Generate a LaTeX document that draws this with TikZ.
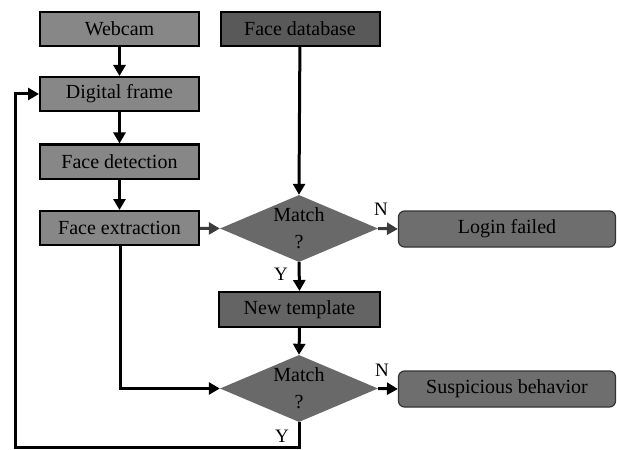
\documentclass[tikz,border=0pt]{standalone}
\usepackage{fontspec}
\setmainfont{Liberation Serif}
\usetikzlibrary{shapes.geometric,arrows.meta}
\definecolor{lightbox}{HTML}{878787}
\definecolor{darkbox}{HTML}{595959}
\definecolor{diafill}{HTML}{696969}
\definecolor{tmplfill}{HTML}{646464}
\definecolor{resfill}{HTML}{6E6E6E}
\definecolor{greyarrow}{HTML}{3C3C3C}
\tikzset{
  every node/.style={font=\fontsize{20}{22}\selectfont, text=black},
  procbox/.style={draw=black, line width=2pt, minimum width=159pt, minimum height=34pt, inner sep=0pt},
  lightproc/.style={procbox, fill=lightbox},
  darkproc/.style={procbox, fill=darkbox},
  tmplproc/.style={procbox, fill=tmplfill, minimum width=161pt, minimum height=35pt},
  resultbox/.style={draw=black!80, line width=1.2pt, fill=resfill, rounded corners=6pt, minimum width=217pt, minimum height=36pt, inner sep=0pt},
  decision/.style={diamond, draw=none, fill=diafill, minimum width=158pt, minimum height=67pt, inner sep=0pt, aspect=2.36, align=center, font=\fontsize{20}{27}\selectfont},
  flow/.style={line width=3pt, -{Triangle[length=11pt,width=12pt]}},
  flowgrey/.style={flow, draw=greyarrow, -{Triangle[length=11pt,width=12pt,fill=greyarrow]}},
  lbl/.style={font=\fontsize{19}{21}\selectfont, inner sep=0pt}
}
\begin{document}
\begin{tikzpicture}[x=1pt,y=-1pt]
\useasboundingbox (0,0) rectangle (617,449);
\node[lightproc] (webcam) at (119.5,29) {Webcam};
\node[darkproc] (db) at (300,29) {Face database};
\node[lightproc] (frame) at (119.5,94) {Digital frame};
\node[lightproc] (detect) at (119.5,161.5) {Face detection};
\node[lightproc] (extract) at (119.5,228) {Face extraction};
\node[decision] (m1) at (299,228.5) {Match\\?};
\node[resultbox] (fail) at (507,229) {Login failed};
\node[tmplproc] (tmpl) at (299.5,309.5) {New template};
\node[decision] (m2) at (299,388.5) {Match\\?};
\node[resultbox] (susp) at (507,389) {Suspicious behavior};
\coordinate (loopbr) at (299,447);
\coordinate (loopbl) at (15,447);
\coordinate (loopt) at (15,94);
\coordinate (extbot) at (120,388.5);

\draw[flow] (webcam) -- (frame);
\draw[flow] (frame) -- (detect);
\draw[flow] (detect) -- (extract);
\draw[flow] (db) -- (m1.north);
\draw[flowgrey] (extract) -- (m1.west);
\draw[flowgrey] (m1.east) -- (fail.west);
\draw[flow] (m1.south) -- (tmpl.north);
\draw[flow] (tmpl.south) -- (m2.north);
\draw[flow] (m2.east) -- (susp.west);
\draw[flow] (extract.south -| extbot) -- (extbot) -- (m2.west);
\draw[flow] (m2.south) -- (loopbr) -- (loopbl) -- (loopt) -- (frame.west);

\node[lbl] at (381,209) {N};
\node[lbl] at (382,370) {N};
\node[lbl] at (281,274) {Y};
\node[lbl] at (282,436) {Y};
\end{tikzpicture}
\end{document}
